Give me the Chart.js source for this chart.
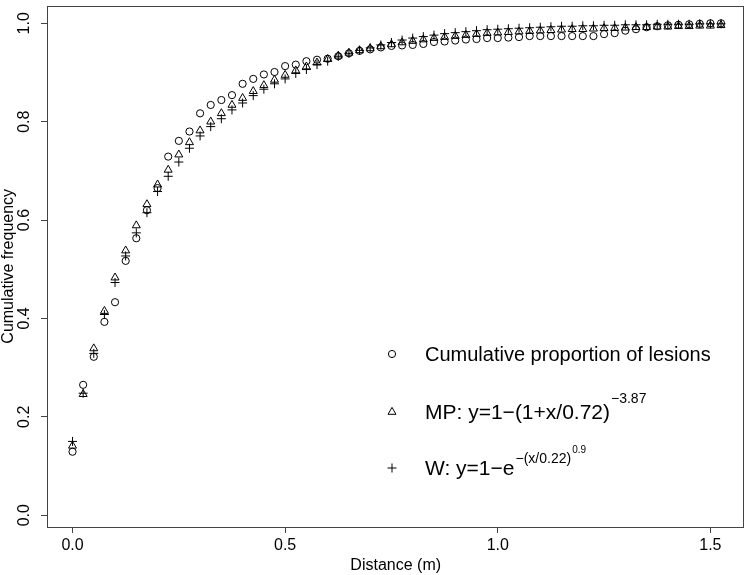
<!DOCTYPE html>
<html>
<head>
<meta charset="utf-8">
<script src="https://cdn.jsdelivr.net/npm/chart.js@4.4.1/dist/chart.umd.min.js"></script>
<style>
  html, body { margin: 0; padding: 0; background: #fff; }
  #wrap { width: 750px; height: 575px; }
</style>
</head>
<body>
<div id="wrap"><canvas id="chart" width="750" height="575"></canvas></div>
<script>
// distance classes (m)
const distances = [0, 0.025, 0.05, 0.075, 0.1, 0.125, 0.15, 0.175, 0.2, 0.225,
    0.25, 0.275, 0.3, 0.325, 0.35, 0.375, 0.4, 0.425, 0.45, 0.475,
    0.5, 0.525, 0.55, 0.575, 0.6, 0.625, 0.65, 0.675, 0.7, 0.725,
    0.75, 0.775, 0.8, 0.825, 0.85, 0.875, 0.9, 0.925, 0.95, 0.975,
    1.0, 1.025, 1.05, 1.075, 1.1, 1.125, 1.15, 1.175, 1.2, 1.225,
    1.25, 1.275, 1.3, 1.325, 1.35, 1.375, 1.4, 1.425, 1.45, 1.475,
    1.5, 1.525];

// observed cumulative proportion of lesions (circles)
const observed = [0.129, 0.265, 0.322, 0.393, 0.433, 0.517, 0.563, 0.620, 0.665, 0.729,
    0.761, 0.780, 0.817, 0.834, 0.844, 0.854, 0.877, 0.887, 0.896, 0.901,
    0.913, 0.916, 0.923, 0.926, 0.928, 0.933, 0.939, 0.944, 0.947, 0.951,
    0.954, 0.955, 0.956, 0.958, 0.962, 0.963, 0.965, 0.967, 0.968, 0.970,
    0.970, 0.971, 0.972, 0.974, 0.974, 0.974, 0.974, 0.974, 0.974, 0.974,
    0.978, 0.980, 0.985, 0.988, 0.992, 0.994, 0.996, 0.997, 0.998, 0.999,
    1.000, 1.000];

// MP model (triangles)
const mpFit = [0.141, 0.246, 0.339, 0.415, 0.483, 0.538, 0.589, 0.632, 0.672, 0.702,
    0.733, 0.758, 0.782, 0.800, 0.817, 0.834, 0.848, 0.862, 0.874, 0.885,
    0.895, 0.904, 0.912, 0.920, 0.927, 0.934, 0.940, 0.945, 0.949, 0.953,
    0.957, 0.961, 0.964, 0.967, 0.970, 0.972, 0.974, 0.976, 0.978, 0.980,
    0.981, 0.982, 0.983, 0.984, 0.985, 0.986, 0.987, 0.988, 0.988, 0.989,
    0.990, 0.990, 0.991, 0.992, 0.992, 0.993, 0.993, 0.994, 0.994, 0.995,
    0.995, 0.996];

// W model (plus signs)
const wFit = [0.150, 0.248, 0.329, 0.408, 0.473, 0.527, 0.574, 0.615, 0.658, 0.689,
    0.718, 0.746, 0.771, 0.790, 0.806, 0.824, 0.838, 0.853, 0.866, 0.877,
    0.887, 0.898, 0.906, 0.916, 0.923, 0.933, 0.939, 0.945, 0.950, 0.956,
    0.961, 0.966, 0.970, 0.973, 0.976, 0.979, 0.981, 0.983, 0.985, 0.987,
    0.988, 0.989, 0.990, 0.991, 0.992, 0.993, 0.994, 0.994, 0.995, 0.995,
    0.996, 0.996, 0.997, 0.997, 0.997, 0.998, 0.998, 0.998, 0.998, 0.999,
    0.999, 0.999];

const xTicks = [0, 0.5, 1.0, 1.5];
const yTicks = [0, 0.2, 0.4, 0.6, 0.8, 1.0];

const FONT = '"Liberation Sans", Arial, Helvetica, sans-serif';

function toPoints(values) {
    return distances.map(function (d, i) { return { x: d, y: values[i] }; });
}

// box, y tick labels, y title and the legend
const framePlugin = {
    id: 'frame',
    afterDraw: function (chart) {
        const ctx = chart.ctx;
        const a = chart.chartArea;
        const yScale = chart.scales.y;
        ctx.save();
        ctx.strokeStyle = '#444';
        ctx.lineWidth = 1;
        ctx.strokeRect(Math.round(a.left) + 0.5, Math.round(a.top) + 0.5,
            Math.round(a.right - a.left) - 1, Math.round(a.bottom - a.top));

        ctx.fillStyle = '#000';
        ctx.font = '16px ' + FONT;
        ctx.textAlign = 'center';
        ctx.textBaseline = 'middle';
        yTicks.forEach(function (v) {
            const py = yScale.getPixelForValue(v);
            ctx.save();
            ctx.translate(25, py);
            ctx.rotate(-Math.PI / 2);
            ctx.fillText(v.toFixed(1), 0, 0);
            ctx.restore();
        });
        ctx.save();
        ctx.translate(9, (a.top + a.bottom) / 2);
        ctx.rotate(-Math.PI / 2);
        ctx.fillText('Cumulative frequency', 0, 0);
        ctx.restore();

        // legend
        const symX = 392;
        const textX = 425;
        const rows = [354, 412, 468];
        ctx.strokeStyle = '#000';
        ctx.beginPath();
        ctx.arc(symX, rows[0], 3.6, 0, Math.PI * 2);
        ctx.stroke();
        const r = 4.6;
        ctx.beginPath();
        ctx.moveTo(symX, rows[1] - r);
        ctx.lineTo(symX + r * Math.sin(Math.PI * 2 / 3), rows[1] + r / 2);
        ctx.lineTo(symX - r * Math.sin(Math.PI * 2 / 3), rows[1] + r / 2);
        ctx.closePath();
        ctx.stroke();
        ctx.beginPath();
        ctx.moveTo(symX - 4.5, rows[2]);
        ctx.lineTo(symX + 4.5, rows[2]);
        ctx.moveTo(symX, rows[2] - 4.5);
        ctx.lineTo(symX, rows[2] + 4.5);
        ctx.stroke();

        ctx.textAlign = 'left';
        ctx.textBaseline = 'alphabetic';
        const big = '21px ' + FONT;
        const sup = '14px ' + FONT;
        const sup2 = '10px ' + FONT;

        ctx.font = '20px ' + FONT;
        ctx.fillText('Cumulative proportion of lesions', textX, rows[0] + 7);

        let base = rows[1] + 7;
        ctx.font = big;
        let t = 'MP: y=1\u2212(1+x/0.72)';
        ctx.fillText(t, textX, base);
        let x = textX + ctx.measureText(t).width + 1;
        ctx.font = sup;
        ctx.fillText('\u22123.87', x, base - 16);

        base = rows[2] + 7;
        ctx.font = big;
        t = 'W: y=1\u2212e';
        ctx.fillText(t, textX, base);
        x = textX + ctx.measureText(t).width + 1;
        ctx.font = sup;
        t = '\u2212(x/0.22)';
        ctx.fillText(t, x, base - 12);
        x += ctx.measureText(t).width + 1;
        ctx.font = sup2;
        ctx.fillText('0.9', x, base - 22);
        ctx.restore();
    }
};

new Chart(document.getElementById('chart'), {
    type: 'scatter',
    data: {
        datasets: [{
            label: 'Cumulative proportion of lesions',
            data: toPoints(observed),
            pointStyle: 'circle',
            pointRadius: 3.6,
            borderColor: '#000',
            backgroundColor: 'rgba(0,0,0,0)',
            borderWidth: 1
        }, {
            label: 'MP',
            data: toPoints(mpFit),
            pointStyle: 'triangle',
            pointRadius: 4.6,
            borderColor: '#000',
            backgroundColor: 'rgba(0,0,0,0)',
            borderWidth: 1
        }, {
            label: 'W',
            data: toPoints(wFit),
            pointStyle: 'cross',
            pointRadius: 4.5,
            borderColor: '#000',
            backgroundColor: 'rgba(0,0,0,0)',
            borderWidth: 1
        }]
    },
    options: {
        responsive: false,
        animation: false,
        layout: { padding: { top: 2, right: 5, left: 0, bottom: 0 } },
        plugins: {
            legend: { display: false },
            tooltip: { enabled: false }
        },
        scales: {
            x: {
                type: 'linear',
                min: -0.06,
                max: 1.58,
                afterBuildTicks: function (scale) {
                    scale.ticks = xTicks.map(function (v) { return { value: v }; });
                },
                afterFit: function (scale) { scale.height = 48; },
                border: { display: false },
                grid: { drawOnChartArea: false, drawTicks: true, tickLength: 6, color: '#444' },
                ticks: {
                    color: '#000',
                    font: { size: 16, family: FONT },
                    padding: 3,
                    maxRotation: 0,
                    callback: function (v) { return Number(v).toFixed(1); }
                },
                title: {
                    display: true,
                    text: 'Distance (m)',
                    color: '#000',
                    font: { size: 16, family: FONT },
                    padding: { top: 0, bottom: 0 }
                }
            },
            y: {
                type: 'linear',
                min: -0.024,
                max: 1.036,
                afterBuildTicks: function (scale) {
                    scale.ticks = yTicks.map(function (v) { return { value: v }; });
                },
                afterFit: function (scale) { scale.width = 47; },
                border: { display: false },
                grid: { drawOnChartArea: false, drawTicks: true, tickLength: 6, color: '#444' },
                ticks: { display: false }
            }
        }
    },
    plugins: [framePlugin]
});
</script>
</body>
</html>
